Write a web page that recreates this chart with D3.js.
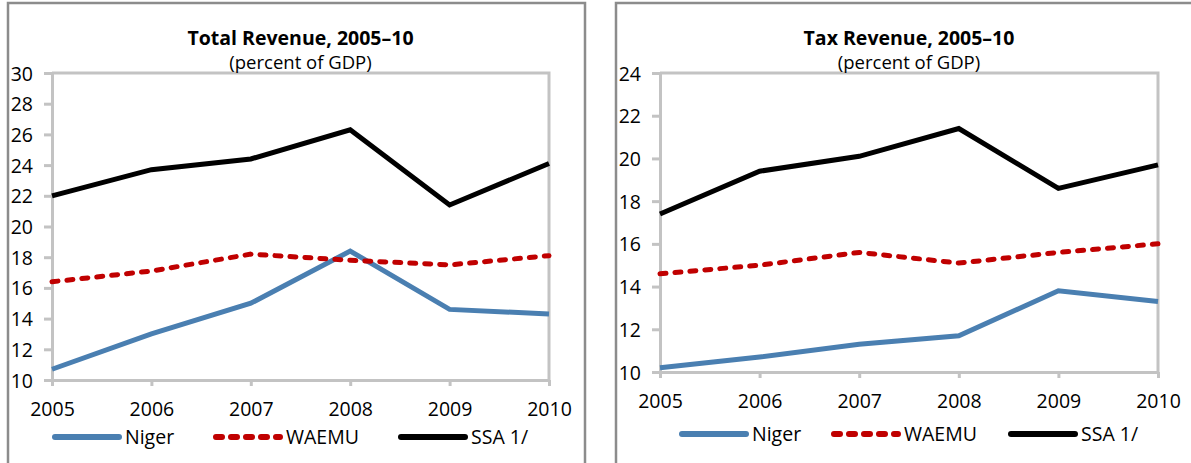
<!DOCTYPE html>
<html>
<head>
<meta charset="utf-8">
<script src="https://cdn.jsdelivr.net/npm/d3@7"></script>
<style>
  html, body { margin: 0; padding: 0; background: #ffffff; }
  svg { display: block; }
  text { font-family: "Open Sans", "Noto Sans", sans-serif; fill: #000; }
</style>
</head>
<body>
<svg id="chart" width="1191" height="463"></svg>
<script>
// Years on the horizontal axis
const years = [2005, 2006, 2007, 2008, 2009, 2010];

// Total revenue, percent of GDP
const totalNiger = [10.7, 13.0, 15.0, 18.4, 14.6, 14.3];
const totalWaemu = [16.4, 17.1, 18.2, 17.8, 17.5, 18.1];
const totalSsa   = [22.0, 23.7, 24.4, 26.3, 21.4, 24.1];

// Tax revenue, percent of GDP
const taxNiger = [10.2, 10.7, 11.3, 11.7, 13.8, 13.3];
const taxWaemu = [14.6, 15.0, 15.6, 15.1, 15.6, 16.0];
const taxSsa   = [17.4, 19.4, 20.1, 21.4, 18.6, 19.7];

// Tick labels for the value axes
const totalTicks = [10, 12, 14, 16, 18, 20, 22, 24, 26, 28, 30];
const taxTicks   = [10, 12, 14, 16, 18, 20, 22, 24];

const seriesNames = ["Niger", "WAEMU", "SSA 1/"];

const svg = d3.select("#chart");

const styles = {
  "Niger":  { color: "#4a7fb1", dash: null, cap: "butt" },
  "WAEMU":  { color: "#c00000", dash: "6 9", cap: "round" },
  "SSA 1/": { color: "#000000", dash: null, cap: "butt" }
};

const tickFont = 19.5;

function drawPanel(cfg) {
  const g = svg.append("g");

  // outer frame of the panel (runs past the bottom of the view)
  g.append("path")
    .attr("d", `M${cfg.box[0]},${cfg.box[3]} V${cfg.box[1]} H${cfg.box[2]} V${cfg.box[3]}`)
    .attr("fill", "none")
    .attr("stroke", "#8c8c8c")
    .attr("stroke-width", 2.5);

  const x = d3.scalePoint().domain(years).range([cfg.plot[0], cfg.plot[1]]);
  const y = d3.scaleLinear().domain(cfg.domain).range([cfg.plot[3], cfg.plot[2]]);

  // plot-area frame: top and right edges
  g.append("path")
    .attr("d", `M${cfg.plot[0]},${cfg.plot[2]} H${cfg.plot[1]} V${cfg.plot[3]}`)
    .attr("fill", "none")
    .attr("stroke", "#c3c3c3")
    .attr("stroke-width", 3);

  // value axis
  const ya = g.append("g")
    .attr("transform", `translate(${cfg.plot[0]},0)`)
    .call(d3.axisLeft(y).tickValues(cfg.ticks).tickSize(8).tickSizeOuter(0).tickPadding(11));
  ya.select(".domain").attr("stroke", "#c3c3c3").attr("stroke-width", 3);
  ya.selectAll(".tick line").attr("stroke", "#c3c3c3").attr("stroke-width", 3);
  ya.selectAll(".tick text")
    .attr("font-size", tickFont)
    .attr("font-family", "Open Sans")
    .attr("fill", "#000")
    .attr("dy", "0.36em");

  // category axis
  const xa = g.append("g")
    .attr("transform", `translate(0,${cfg.plot[3]})`)
    .call(d3.axisBottom(x).tickSize(6).tickSizeOuter(0).tickPadding(23));
  xa.select(".domain").attr("stroke", "#c3c3c3").attr("stroke-width", 3);
  xa.selectAll(".tick line").attr("stroke", "#c3c3c3").attr("stroke-width", 3);
  xa.selectAll(".tick text")
    .attr("font-size", tickFont)
    .attr("font-family", "Open Sans")
    .attr("fill", "#000")
    .attr("dy", "0.36em");

  // series lines
  const line = d3.line().x((d, i) => x(years[i])).y(d => y(d));
  cfg.series.forEach((vals, k) => {
    const st = styles[seriesNames[k]];
    g.append("path")
      .datum(vals)
      .attr("d", line)
      .attr("fill", "none")
      .attr("stroke", st.color)
      .attr("stroke-width", 5)
      .attr("stroke-linejoin", "miter")
      .attr("stroke-linecap", st.cap)
      .attr("stroke-dasharray", st.dash);
  });

  // titles
  const cx = (cfg.plot[0] + cfg.plot[1]) / 2;
  g.append("text")
    .attr("x", cx).attr("y", cfg.titleY)
    .attr("text-anchor", "middle")
    .attr("font-size", 19.5).attr("font-weight", "bold")
    .attr("dy", "0.36em")
    .text(cfg.title);
  g.append("text")
    .attr("x", cx).attr("y", cfg.titleY + 24)
    .attr("text-anchor", "middle")
    .attr("font-size", 18.5)
    .attr("dy", "0.36em")
    .text("(percent of GDP)");

  // legend
  const lg = g.append("g").attr("transform", `translate(0,${cfg.legendY})`);
  cfg.legendX.forEach((lx, k) => {
    const st = styles[seriesNames[k]];
    lg.append("line")
      .attr("x1", lx + 3).attr("x2", lx + cfg.legendLen - 3)
      .attr("y1", 0).attr("y2", 0)
      .attr("stroke", st.color)
      .attr("stroke-width", 6)
      .attr("stroke-linecap", "round")
      .attr("stroke-dasharray", st.dash);
    lg.append("text")
      .attr("x", lx + cfg.legendLen + 3).attr("y", 0)
      .attr("dy", "0.36em")
      .attr("font-size", tickFont)
      .text(seriesNames[k]);
  });
}

drawPanel({
  box: [8, 3, 585, 470],
  plot: [52, 549, 73, 380],
  domain: [10, 30],
  ticks: totalTicks,
  series: [totalNiger, totalWaemu, totalSsa],
  title: "Total Revenue, 2005\u201310",
  titleY: 38,
  legendY: 437,
  legendX: [52, 213, 398],
  legendLen: 70
});

drawPanel({
  box: [616, 3, 1200, 470],
  plot: [660, 1158, 73, 372],
  domain: [10, 24],
  ticks: taxTicks,
  series: [taxNiger, taxWaemu, taxSsa],
  title: "Tax Revenue, 2005\u201310",
  titleY: 38,
  legendY: 434,
  legendX: [679, 831, 1008],
  legendLen: 70
});
</script>
</body>
</html>
